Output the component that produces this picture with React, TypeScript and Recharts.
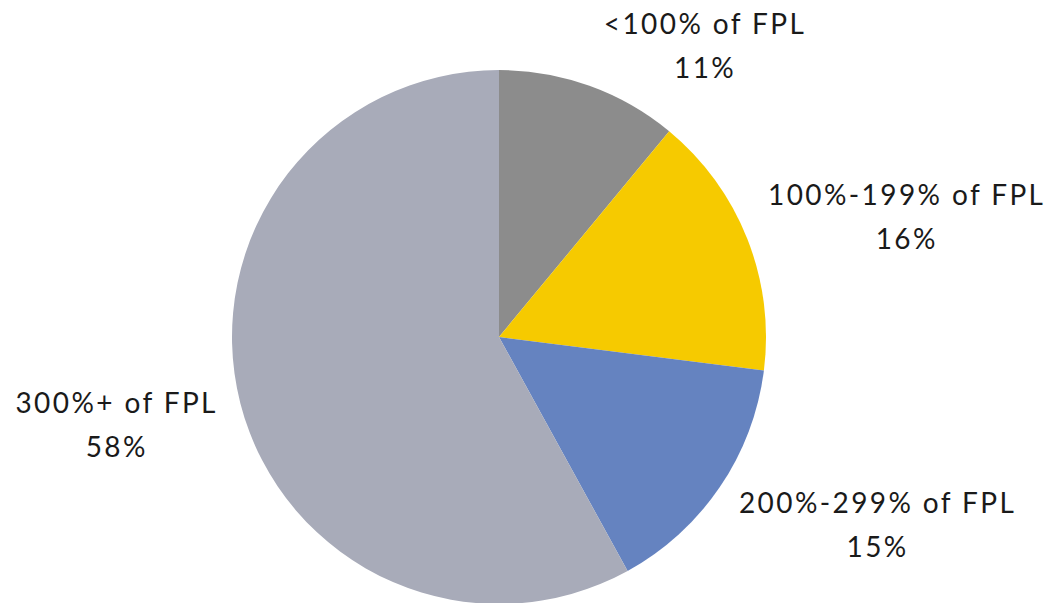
import { Cell, Pie, PieChart } from 'recharts';
import type { JSX } from 'react';

const categories = ['<100% of FPL', '100%-199% of FPL', '200%-299% of FPL', '300%+ of FPL'];
const shares = [11, 16, 15, 58];
const colors = ['#8c8c8c', '#f6ca00', '#6583c0', '#a8abb9'];

const data = categories.map((name, i) => ({ name, value: shares[i] }));

const RADIAN = Math.PI / 180;
const FONT_SIZE = 28;
const CHAR_W = 17.2;
const LINE_GAP = 44;

interface LabelProps {
  cx?: number;
  cy?: number;
  midAngle?: number;
  outerRadius?: number;
  name?: string;
  value?: number;
}

function SliceLabel({ cx = 0, cy = 0, midAngle = 0, outerRadius = 0, name = '', value = 0 }: LabelProps): JSX.Element {
  const dirX = Math.cos(-midAngle * RADIAN);
  const dirY = Math.sin(-midAngle * RADIAN);
  const r = outerRadius + 16;
  const px = cx + r * dirX;
  const py = cy + r * dirY;
  const w = name.length * CHAR_W;
  const h = 72;
  const x = px + (dirX >= 0 ? w / 2 + 7 : -w / 2 - 5);
  // Excel-style best-fit placement: labels on the upper right sit a bit higher
  const y = py + dirY * h / 2 + 8 - (dirY < 0 && dirX > 0.8 ? 12 : 0);

  const textStyle = { letterSpacing: 2.4 };
  return (
    <g>
      <text x={x} y={y - LINE_GAP / 2} textAnchor="middle" dominantBaseline="central" fill="#1a1a1a" fontSize={FONT_SIZE} style={textStyle}>
        {name}
      </text>
      <text x={x} y={y + LINE_GAP / 2} textAnchor="middle" dominantBaseline="central" fill="#1a1a1a" fontSize={FONT_SIZE} style={textStyle}>
        {`${value}%`}
      </text>
    </g>
  );
}

export default function App(): JSX.Element {
  return (
    <div style={{ width: 1051, height: 603, background: '#ffffff', fontFamily: 'Lato, "Open Sans", sans-serif' }}>
      <style>{'body { margin: 0; }'}</style>
      <PieChart width={1051} height={603} margin={{ top: 0, right: 0, bottom: 0, left: 0 }}>
        <Pie
          data={data}
          dataKey="value"
          nameKey="name"
          cx={499}
          cy={337}
          outerRadius={267}
          startAngle={90}
          endAngle={-270}
          stroke="none"
          labelLine={false}
          label={<SliceLabel />}
          isAnimationActive={false}
        >
          {data.map((d, i) => (
            <Cell key={d.name} fill={colors[i]} />
          ))}
        </Pie>
      </PieChart>
    </div>
  );
}
